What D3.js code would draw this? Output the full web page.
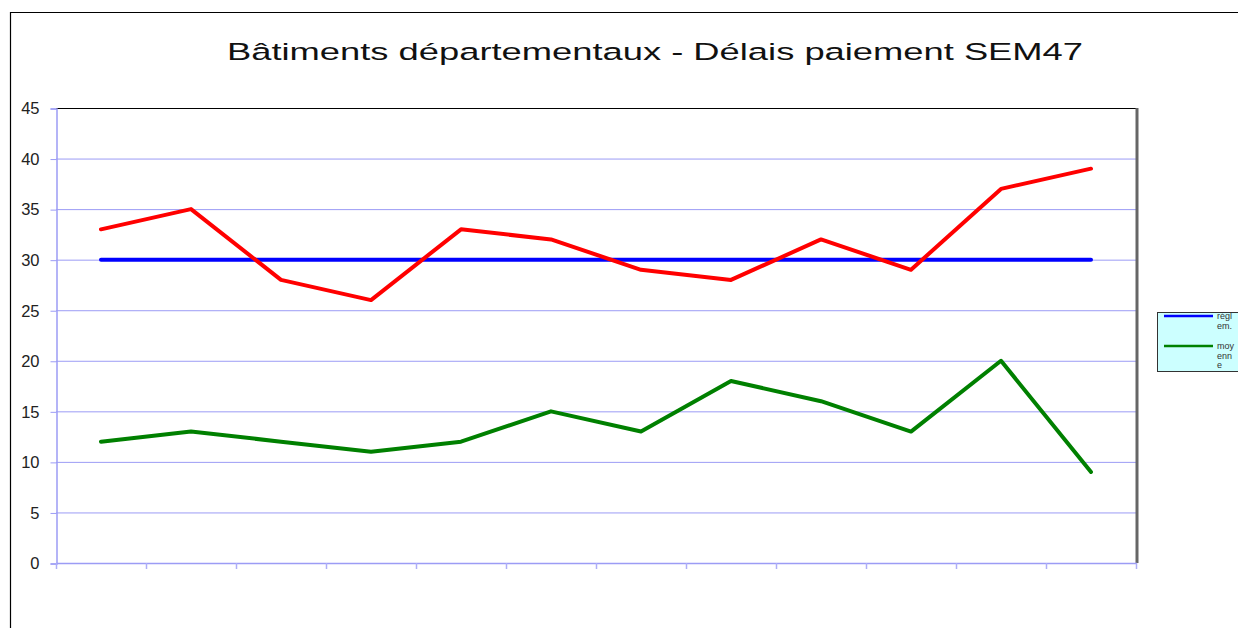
<!DOCTYPE html>
<html>
<head>
<meta charset="utf-8">
<script src="https://cdn.jsdelivr.net/npm/d3@7"></script>
<style>
  body { margin: 0; background: #fff; }
  svg { display: block; font-family: "Liberation Sans", Arial, sans-serif; }
</style>
</head>
<body>
<svg id="chart" width="1238" height="628"></svg>
<script>
/* Data */
const categories = ['1', '2', '3', '4', '5', '6', '7', '8', '9', '10', '11', '12'];
const reglement = [30, 30, 30, 30, 30, 30, 30, 30, 30, 30, 30, 30];
const reel = [33, 35, 28, 26, 33, 32, 29, 28, 32, 29, 37, 39];
const moyenne = [12, 13, 12, 11, 12, 15, 13, 18, 16, 13, 20, 9];
const yTicks = [0, 5, 10, 15, 20, 25, 30, 35, 40, 45];

const svg = d3.select('#chart');

// outer frame
svg.append('path')
  .attr('d', 'M10.5,628 V12.5 H1238')
  .attr('fill', 'none')
  .attr('stroke', '#000')
  .attr('stroke-width', 1.2);

// title (stretched like the original)
svg.append('text')
  .attr('x', 227)
  .attr('y', 60)
  .attr('font-size', 24.5)
  .attr('fill', '#111')
  .attr('textLength', 856)
  .attr('lengthAdjust', 'spacingAndGlyphs')
  .text('Bâtiments départementaux - Délais paiement SEM47');

let margin = { left: 56, top: 108, right: 1136, bottom: 563 };

let x = d3.scaleBand()
  .domain(categories)
  .range([margin.left, margin.right]);
let y = d3.scaleLinear()
  .domain([0, 45])
  .range([margin.bottom, margin.top]);

// grid
svg.append('g')
  .selectAll('line')
  .data(yTicks.filter(d => d > 0 && d < 45))
  .enter().append('line')
  .attr('x1', margin.left)
  .attr('x2', margin.right)
  .attr('y1', d => y(d) + 0.5)
  .attr('y2', d => y(d) + 0.5)
  .attr('stroke', '#9c9cf5')
  .attr('stroke-width', 1);

// plot border top + right
svg.append('line')
  .attr('x1', margin.left).attr('x2', margin.right)
  .attr('y1', margin.top + 0.5).attr('y2', margin.top + 0.5)
  .attr('stroke', '#000');
svg.append('line')
  .attr('x1', margin.right + 1).attr('x2', margin.right + 1)
  .attr('y1', margin.top).attr('y2', margin.bottom)
  .attr('stroke', '#666')
  .attr('stroke-width', 3);

// y axis
let yAxis = svg.append('g')
  .attr('transform', `translate(${margin.left + 0.5},0.5)`)
  .call(d3.axisLeft(y).tickValues(yTicks).tickSize(6).tickPadding(11));
yAxis.select('.domain').attr('stroke', '#9c9cf5').attr('stroke-width', 1.5);
yAxis.selectAll('.tick line').attr('stroke', '#9c9cf5');
yAxis.selectAll('.tick text')
  .attr('font-size', 16.5)
  .attr('font-family', '"Liberation Sans", Arial, sans-serif')
  .attr('fill', '#222');

// x axis (ticks between categories)
let xEdges = categories.map(c => x(c)).concat([margin.right]);
svg.append('line')
  .attr('x1', margin.left).attr('x2', margin.right + 1)
  .attr('y1', margin.bottom + 0.5).attr('y2', margin.bottom + 0.5)
  .attr('stroke', '#9c9cf5')
  .attr('stroke-width', 1.5);
svg.append('g')
  .selectAll('line')
  .data(xEdges)
  .enter().append('line')
  .attr('x1', d => d + 0.5)
  .attr('x2', d => d + 0.5)
  .attr('y1', margin.bottom)
  .attr('y2', margin.bottom + 6)
  .attr('stroke', '#aeaef8')
  .attr('stroke-width', 1.5);

// lines
let series = [
  { values: reglement, color: '#0000ff' },
  { values: reel, color: '#ff0000' },
  { values: moyenne, color: '#008000' }
];
let line = d3.line()
  .x((d, i) => x(categories[i]) + x.bandwidth() / 2)
  .y(d => y(d));

series.forEach(s => {
  svg.append('path')
    .datum(s.values)
    .attr('d', line)
    .attr('fill', 'none')
    .attr('stroke', s.color)
    .attr('stroke-width', 4)
    .attr('stroke-linejoin', 'round')
    .attr('stroke-linecap', 'round');
});

// legend
let lg = svg.append('g');
lg.append('rect')
  .attr('x', 1157.5).attr('y', 312.5)
  .attr('width', 100).attr('height', 59)
  .attr('fill', '#ccffff')
  .attr('stroke', '#333')
  .attr('stroke-width', 1);

let legendItems = [
  { color: '#0000ff', y: 316, lines: ['régl', 'em.'] },
  { color: '#008000', y: 346, lines: ['moy', 'enn', 'e'] }
];
legendItems.forEach(it => {
  lg.append('line')
    .attr('x1', 1164).attr('x2', 1213)
    .attr('y1', it.y).attr('y2', it.y)
    .attr('stroke', it.color)
    .attr('stroke-width', 2.5);
  it.lines.forEach((t, j) => {
    lg.append('text')
      .attr('x', 1217)
      .attr('y', it.y + 3 + j * 9.5)
      .attr('font-size', 9)
      .attr('fill', '#333')
      .text(t);
  });
});
</script>
</body>
</html>
